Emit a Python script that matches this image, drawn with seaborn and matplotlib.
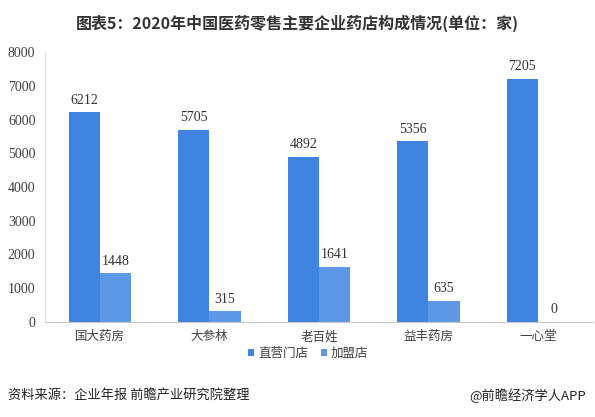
import pandas as pd
import matplotlib
matplotlib.use("Agg")
import matplotlib.pyplot as plt
import seaborn as sns

companies = ['国大药房', '大参林', '老百姓', '益丰药房', '一心堂']
direct_stores = [6212, 5705, 4892, 5356, 7205]
franchise_stores = [1448, 315, 1641, 635, 0]
series_names = ['直营门店', '加盟店']
colors = ['#3F84E0', '#5C98E6']

df = pd.DataFrame({
    'company': companies * 2,
    'type': [series_names[0]] * len(companies) + [series_names[1]] * len(companies),
    'count': direct_stores + franchise_stores,
})

sns.set_style("white")
plt.rcParams['font.family'] = ['Noto Sans CJK SC', 'DejaVu Sans']
serif = ['Liberation Serif', 'DejaVu Serif']

fig = plt.figure(figsize=(5.95, 4.17), dpi=100)
ax = fig.add_axes([0.076, 0.228, 0.92, 0.647])

sns.barplot(data=df, x='company', y='count', hue='type', palette=colors,
            width=0.57, ax=ax, saturation=1, linewidth=0, legend=True)

for cont in ax.containers:
    ax.bar_label(cont, fmt='%d', padding=4, fontsize=10, color='#333333', family=serif)

ax.set_ylim(0, 8000)
ax.set_yticks(range(0, 8001, 1000))
ax.set_yticklabels([str(v) for v in range(0, 8001, 1000)], family=serif, fontsize=10, color='#404040')
ax.set_xlabel('')
ax.set_ylabel('')
ax.tick_params(axis='x', labelsize=9, colors='#404040', length=0, pad=6)
ax.tick_params(axis='y', length=0, pad=7)
for s in ['top', 'right']:
    ax.spines[s].set_visible(False)
ax.spines['left'].set_color('#E0E0E0')
ax.spines['bottom'].set_color('#C8C8C8')

handles, labels = ax.get_legend_handles_labels()
ax.legend_.remove()
fig.legend(handles, labels, loc='center', bbox_to_anchor=(0.518, 0.152), ncol=2,
           frameon=False, fontsize=9, handlelength=0.5, handleheight=0.5,
           handletextpad=0.3, columnspacing=1.0, labelcolor='#404040')

fig.text(0.5, 0.945, '图表5：2020年中国医药零售主要企业药店构成情况(单位：家)',
         ha='center', va='center', fontsize=11.5, fontweight='bold', color='#333333')
fig.text(0.013, 0.052, '资料来源：企业年报 前瞻产业研究院整理', ha='left', va='center',
         fontsize=9.5, color='#222222')
fig.text(0.985, 0.052, '@前瞻经济学人APP', ha='right', va='center',
         fontsize=9.5, color='#222222')

fig.savefig('out.png', dpi=100)
